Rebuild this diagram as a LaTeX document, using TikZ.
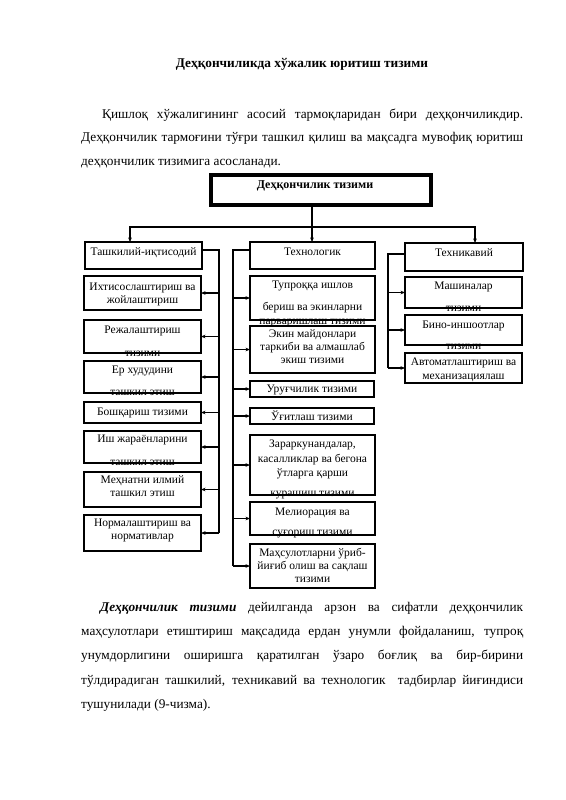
\documentclass[tikz,border=0pt]{standalone}
\usepackage{fontspec}
\setmainfont{Liberation Serif}
\usetikzlibrary{arrows.meta}
\begin{document}
\begin{tikzpicture}[x=1pt,y=-1pt,
  box/.style={draw, line width=1.1pt, anchor=north west, inner sep=0pt, outer sep=0pt},
  headbox/.style={box, line width=2.8pt},
  mainbox/.style={box, line width=3.6pt},
  btxt/.style={anchor=base, inner sep=0pt, font=\fontsize{11.5}{13}\selectfont},
  ptxt/.style={anchor=base west, inner sep=0pt, font=\fontsize{13.3}{16}\selectfont},
  conn/.style={line width=1.1pt},
  arr/.style={conn, -{Stealth[length=4.5pt,width=3.6pt]}},
]
\fill[white] (0,0) rectangle (565,800);
\useasboundingbox (0,0) rectangle (565,800);

% title and first paragraph
\node[anchor=base, inner sep=0pt, font=\fontsize{13.3}{16}\selectfont\bfseries] (title) at (302,67) {Деҳқончиликда хўжалик юритиш тизими};
\node[ptxt] (p1a) at (102,118) {\makebox[421pt][s]{Қишлоқ хўжалигининг асосий тармоқларидан бири деҳқончиликдир.}};
\node[ptxt] (p1b) at (81,141.5) {\makebox[442pt][s]{Деҳқончилик тармоғини тўғри ташкил қилиш ва мақсадга мувофиқ юритиш}};
\node[ptxt] (p1c) at (81,165) {деҳқончилик тизимига асосланади.};

% main box
\node[mainbox, minimum width=220pt, minimum height=30pt] (main) at (211,175) {};
\node[anchor=base, inner sep=0pt, font=\fontsize{12}{14}\selectfont\bfseries] (maint) at (315,188.5) {Деҳқончилик тизими};

% headers
\node[headbox, minimum width=117pt, minimum height=27pt] (H1) at (85,242) {};
\node[btxt] (H1t) at (143.5,255.5) {Ташкилий-иқтисодий};
\node[headbox, minimum width=125pt, minimum height=27pt] (H2) at (250,242) {};
\node[btxt] (H2t) at (312.5,255.5) {Технологик};
\node[headbox, minimum width=118pt, minimum height=28pt] (H3) at (405,243) {};
\node[btxt] (H3t) at (464,256.5) {Техникавий};

% top connectors
\coordinate (jn) at (312,227);
\draw[conn] (main.south -| jn) -- (jn);
\draw[arr] (jn) -- (H2.north -| jn);
\draw[arr] (jn) -| ([xshift=-13.5pt]H1.north);
\draw[arr] (jn) -| ([xshift=11pt]H3.north);

% left column boxes
\node[box, minimum width=117pt, minimum height=34pt] (L1) at (84,276) {};
\node[btxt] (L1a) at (142.5,290) {Ихтисослаштириш ва};
\node[btxt] (L1b) at (142.5,303) {жойлаштириш};
\node[box, minimum width=117pt, minimum height=33pt] (L2) at (84,320) {};
\node[btxt] (L2a) at (142.5,333) {Режалаштириш};
\node[btxt] (L2b) at (142.5,356) {тизими};
\node[box, minimum width=117pt, minimum height=32pt] (L3) at (84,361) {};
\node[btxt] (L3a) at (142.5,373.5) {Ер худудини};
\node[btxt] (L3b) at (142.5,395) {ташкил этиш};
\node[box, minimum width=117pt, minimum height=21pt] (L4) at (84,402) {};
\node[btxt] (L4a) at (142.5,415) {Бошқариш тизими};
\node[box, minimum width=117pt, minimum height=32pt] (L5) at (84,431) {};
\node[btxt] (L5a) at (142.5,442.5) {Иш жараёнларини};
\node[btxt] (L5b) at (142.5,465) {ташкил этиш};
\node[box, minimum width=117pt, minimum height=35pt] (L6) at (84,472) {};
\node[btxt] (L6a) at (142.5,483.5) {Меҳнатни илмий};
\node[btxt] (L6b) at (142.5,496.5) {ташкил этиш};
\node[box, minimum width=117pt, minimum height=36pt] (L7) at (84,515) {};
\node[btxt] (L7a) at (142.5,526.5) {Нормалаштириш ва};
\node[btxt] (L7b) at (142.5,539.5) {нормативлар};

\coordinate (sL) at (219,250);
\draw[conn] (sL -| H1.east) -- (sL) -- (sL |- L7.east);
\foreach \b in {L1,L2,L3,L4,L5,L6,L7} \draw[arr] (sL |- \b.east) -- (\b.east);

% middle column boxes
\node[box, minimum width=125pt, minimum height=44pt] (M1) at (250,276) {};
\node[btxt] (M1a) at (312.5,288.5) {Тупроққа ишлов};
\node[btxt] (M1b) at (312.5,310.5) {бериш ва экинларни};
\node[btxt] (M1c) at (312.5,324.5) {парваришлаш тизими};
\node[box, minimum width=125pt, minimum height=47pt] (M2) at (250,326) {};
\node[btxt] (M2a) at (312.5,337.5) {Экин майдонлари};
\node[btxt] (M2b) at (312.5,350.5) {таркиби ва алмашлаб};
\node[btxt] (M2c) at (312.5,363.5) {экиш тизими};
\node[box, minimum width=124pt, minimum height=16pt] (M3) at (250,381) {};
\node[btxt] (M3a) at (312,392.5) {Уруғчилик тизими};
\node[box, minimum width=124pt, minimum height=16pt] (M4) at (250,408) {};
\node[btxt] (M4a) at (312,420.5) {Ўғитлаш тизими};
\node[box, minimum width=125pt, minimum height=60pt] (M5) at (250,435) {};
\node[btxt] (M5a) at (312.5,447.5) {Зараркунандалар,};
\node[btxt] (M5b) at (312.5,462.5) {касалликлар ва бегона};
\node[btxt] (M5c) at (312.5,476.5) {ўтларга қарши};
\node[btxt] (M5d) at (312.5,496) {курашиш тизими};
\node[box, minimum width=125pt, minimum height=33pt] (M6) at (250,502) {};
\node[btxt] (M6a) at (312.5,515.5) {Мелиорация ва};
\node[btxt] (M6b) at (312.5,535.5) {суғориш тизими};
\node[box, minimum width=125pt, minimum height=44pt] (M7) at (250,544) {};
\node[btxt] (M7a) at (312.5,556.5) {Маҳсулотларни ўриб-};
\node[btxt] (M7b) at (312.5,569.5) {йиғиб олиш ва сақлаш};
\node[btxt] (M7c) at (312.5,582.5) {тизими};

\coordinate (sM) at (233,250);
\draw[conn] (sM -| H2.west) -- (sM) -- (sM |- M7.west);
\foreach \b in {M1,M2,M3,M4,M5,M6,M7} \draw[arr] (sM |- \b.west) -- (\b.west);

% right column boxes
\node[box, minimum width=117pt, minimum height=31pt] (R1) at (405,277) {};
\node[btxt] (R1a) at (463.5,289.5) {Машиналар};
\node[btxt] (R1b) at (463.5,311.5) {тизими};
\node[box, minimum width=117pt, minimum height=30pt] (R2) at (405,315) {};
\node[btxt] (R2a) at (463.5,328.5) {Бино-иншоотлар};
\node[btxt] (R2b) at (463.5,349.5) {тизими};
\node[box, minimum width=117pt, minimum height=30pt] (R3) at (405,353) {};
\node[btxt] (R3a) at (463.5,365.5) {Автоматлаштириш ва};
\node[btxt] (R3b) at (463.5,379.5) {механизациялаш};

\coordinate (sR) at (388,254);
\draw[conn] (sR -| H3.west) -- (sR) -- (sR |- R3.west);
\foreach \b in {R1,R2,R3} \draw[arr] (sR |- \b.west) -- (\b.west);

% bottom paragraph
\node[ptxt] (p2a) at (100,611) {\makebox[423pt][s]{\textbf{\textit{Деҳқончилик тизими}} дейилганда арзон ва сифатли деҳқончилик}};
\node[ptxt] (p2b) at (81,635) {\makebox[442pt][s]{маҳсулотлари етиштириш мақсадида ердан унумли фойдаланиш, тупроқ}};
\node[ptxt] (p2c) at (81,659.5) {\makebox[442pt][s]{унумдорлигини оширишга қаратилган ўзаро боғлиқ ва бир-бирини}};
\node[ptxt] (p2d) at (81,684) {\makebox[442pt][s]{тўлдирадиган ташкилий, техникавий ва технологик\ \ тадбирлар йиғиндиси}};
\node[ptxt] (p2e) at (81,708) {тушунилади (9-чизма).};
\end{tikzpicture}
\end{document}
